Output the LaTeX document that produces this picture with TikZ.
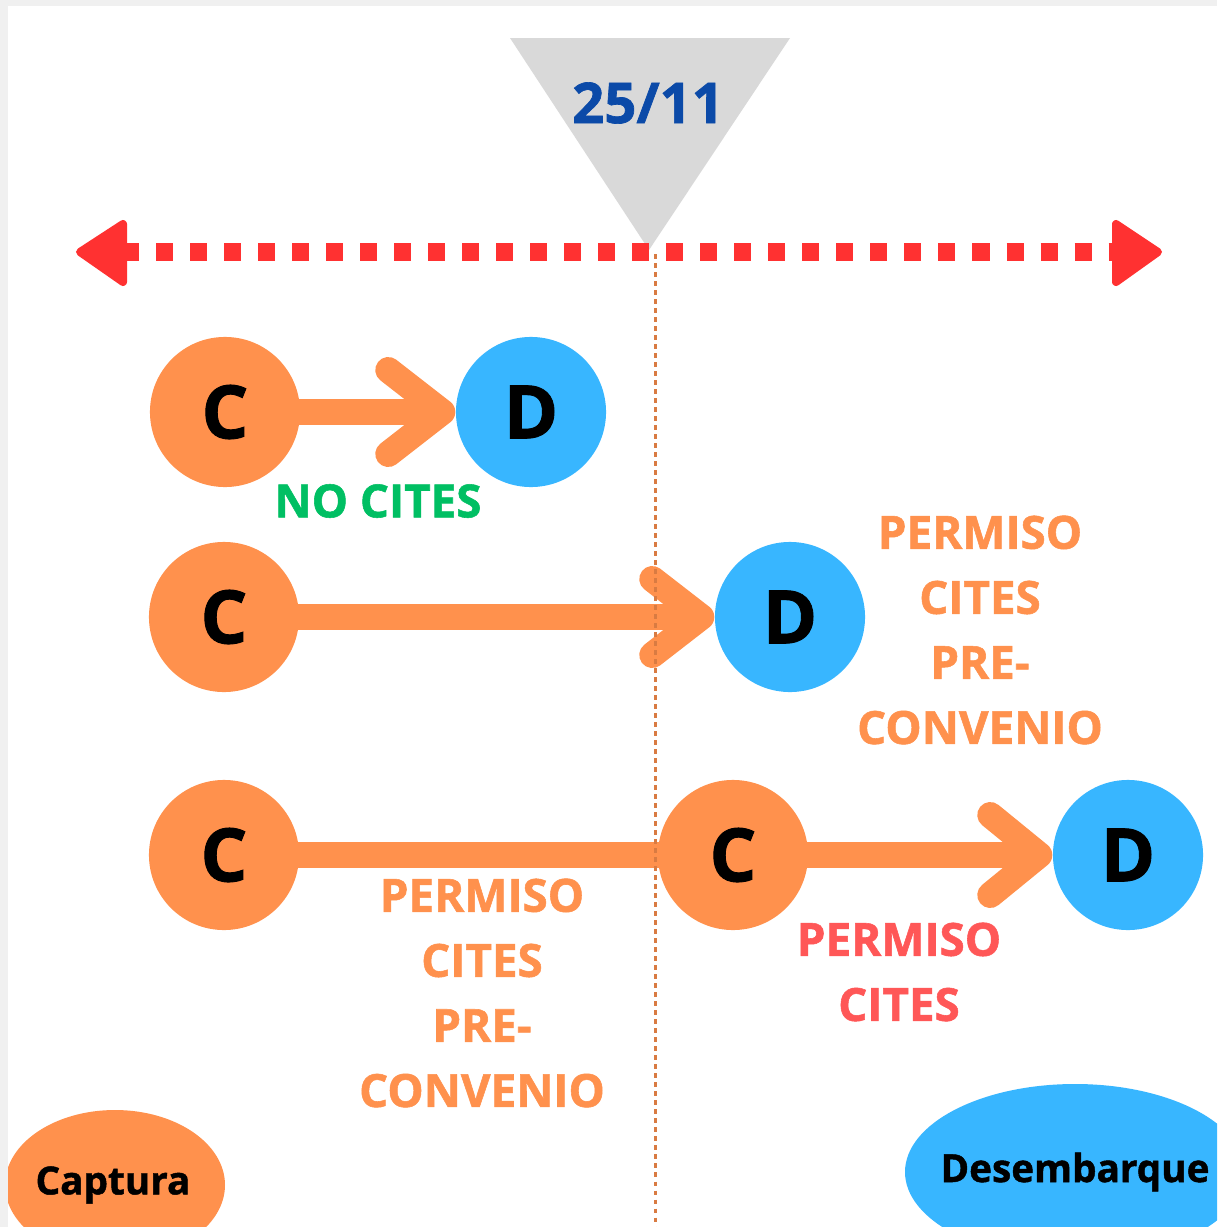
\documentclass[tikz,border=0pt]{standalone}
\usepackage{fontspec}
\setmainfont{Open Sans}[BoldFeatures={FakeBold=1.2}]
\definecolor{captorange}{HTML}{FF914D}
\definecolor{desemblue}{HTML}{38B6FF}
\definecolor{datered}{HTML}{FF3131}
\definecolor{dateblue}{HTML}{0B4AA8}
\definecolor{nogreen}{HTML}{00BF63}
\definecolor{permred}{HTML}{FF5757}
\definecolor{markgray}{HTML}{D9D9D9}
\definecolor{edgegray}{HTML}{F0F0F0}
\tikzset{
  capt/.style={circle,fill=captorange,inner sep=0pt,minimum size=1.5cm,
    font=\bfseries\fontsize{21}{24}\selectfont},
  desem/.style={circle,fill=desemblue,inner sep=0pt,minimum size=1.5cm,
    font=\bfseries\fontsize{21}{24}\selectfont},
  flow/.style={draw=captorange,line width=0.26cm,line cap=round,line join=round},
  shaft/.style={draw=captorange,line width=0.26cm},
  label/.style={font=\bfseries\fontsize{13}{18.5}\selectfont,align=center},
  legend/.style={font=\bfseries\fontsize{11}{13}\selectfont}
}
\begin{document}
\begin{tikzpicture}[x=0.01cm,y=-0.01cm]
  \useasboundingbox (0,0) rectangle (1217,1227);
  \fill[edgegray] (0,0) rectangle (1217,1227);
  \begin{scope}
  \clip (8,6) rectangle (1217,1227);
  \fill[white] (8,6) rectangle (1217,1227);

  \fill[markgray] (510,38) -- (790,38) -- (649,250) coordinate (apex) -- cycle;
  \node[font=\bfseries\fontsize{16}{18}\selectfont,text=dateblue] (date) at (648,103) {25/11};

  \coordinate (tl) at (75,252);
  \coordinate (tr) at (1163,252);
  \draw[datered,line width=0.17cm,dash pattern=on 0.17cm off 0.17cm]
    (122,252) -- (1118,252);
  \filldraw[datered,line width=0.08cm,line join=round]
    ([shift={(5,0)}]tl) -- (123,224) -- (123,282) -- cycle;
  \filldraw[datered,line width=0.08cm,line join=round]
    ([shift={(-5,0)}]tr) -- (1116,224) -- (1116,282) -- cycle;

  \fill[captorange] (115,1185) ellipse [x radius=110,y radius=75];
  \fill[desemblue] (1075,1172) ellipse [x radius=170,y radius=88];
  \node[legend] (captura) at (113,1185) {Captura};
  \node[legend] (desemb) at (1075,1172) {Desembarque};

  \node[capt] (c1) at (225,412) {C};
  \node[desem] (d1) at (531,412) {D};
  \node[capt] (c2) at (224,617) {C};
  \node[desem] (d2) at (790,617) {D};
  \node[capt] (c3) at (224,855) {C};
  \node[capt] (c4) at (733,855) {C};
  \node[desem] (d3) at (1128,855) {D};

  \draw[shaft] ([shift={(-5,0)}]c1.east) -- ([shift={(-13,0)}]d1.west);
  \draw[flow] ([shift={(-67,-42)}]d1.west) -- ([shift={(-13,0)}]d1.west) -- ([shift={(-67,42)}]d1.west);
  \draw[shaft] ([shift={(-5,0)}]c2.east) -- ([shift={(-13,0)}]d2.west);
  \draw[flow] ([shift={(-62,-38)}]d2.west) -- ([shift={(-13,0)}]d2.west) -- ([shift={(-62,38)}]d2.west);
  \draw[shaft] ([shift={(-5,0)}]c3.east) -- ([shift={(5,0)}]c4.west);
  \draw[shaft] ([shift={(-5,0)}]c4.east) -- ([shift={(-13,0)}]d3.west);
  \draw[flow] ([shift={(-62,-40)}]d3.west) -- ([shift={(-13,0)}]d3.west) -- ([shift={(-62,40)}]d3.west);

  \coordinate (foot) at (655,1227);
  \draw[captorange!85!black,line width=0.03cm,dash pattern=on 0.045cm off 0.045cm]
    ([shift={(6,4)}]apex) -- (foot);

  \node[label,text=nogreen] (nocites) at (378,501) {NO CITES};
  \node[label,text=captorange] (pre1) at (980,630) {PERMISO\\CITES\\PRE-\\CONVENIO};
  \node[label,text=captorange] (pre2) at (482,993) {PERMISO\\CITES\\PRE-\\CONVENIO};
  \node[label,text=permred] (perm) at (899,972) {PERMISO\\CITES};
  \end{scope}
\end{tikzpicture}
\end{document}
